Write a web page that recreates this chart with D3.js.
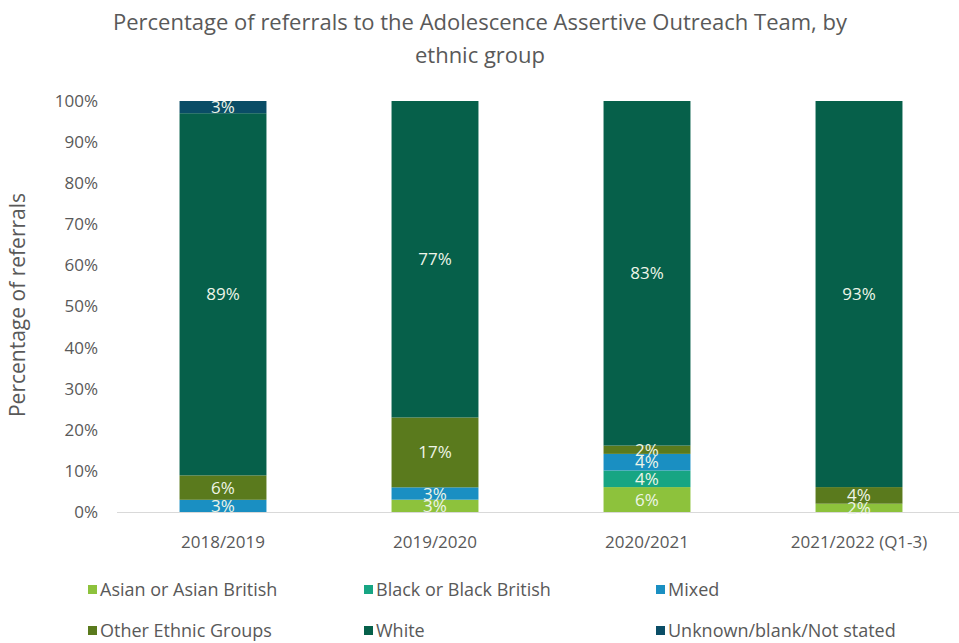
<!DOCTYPE html>
<html>
<head>
<meta charset="utf-8" />
<title>Referrals by ethnic group</title>
<script src="https://cdn.jsdelivr.net/npm/d3@7"></script>
<style>
    body { margin: 0; padding: 0; background: #fff; }
    svg text { font-family: "Open Sans", "Noto Sans", sans-serif; }
</style>
</head>
<body>
<div id="chart"></div>
<script>
    var years = ["2018/2019", "2019/2020", "2020/2021", "2021/2022 (Q1-3)"];
    var groups = ["Asian or Asian British", "Black or Black British", "Mixed",
                  "Other Ethnic Groups", "White", "Unknown/blank/Not stated"];
    var colors = ["#8dc23c", "#17a583", "#1a8fc2", "#5a7a1d", "#06604a", "#0a4d66"];

    // percent per year, in order of groups
    var asian   = [0, 3, 6, 2];
    var black   = [0, 0, 4, 0];
    var mixed   = [3, 3, 4, 0];
    var other   = [6, 17, 2, 4];
    var white   = [89, 77, 83, 93];
    var unknown = [3, 0, 0, 0];

    var yTicks = [0, 10, 20, 30, 40, 50, 60, 70, 80, 90, 100];

    var series = [asian, black, mixed, other, white, unknown];
    var rows = years.map(function (y, i) {
        var r = { year: y };
        groups.forEach(function (g, j) { r[g] = series[j][i]; });
        return r;
    });

    var W = 959, H = 643;
    var svg = d3.select("#chart").append("svg").attr("width", W).attr("height", H);

    var x = d3.scaleBand().domain(years).range([117, 965]).paddingInner(0.59).paddingOuter(0.295);
    var y = d3.scaleLinear().domain([0, 1]).range([512, 101]);

    // Excel-style 100% stack: each column normalised to its own total
    var stacked = d3.stack().keys(groups).offset(d3.stackOffsetExpand)(rows);

    // title
    svg.append("text").attr("x", 480).attr("y", 30).attr("text-anchor", "middle")
        .attr("font-size", 22).attr("fill", "#595959")
        .text("Percentage of referrals to the Adolescence Assertive Outreach Team, by");
    svg.append("text").attr("x", 480).attr("y", 63).attr("text-anchor", "middle")
        .attr("font-size", 22).attr("fill", "#595959").text("ethnic group");

    // y axis
    var yAxis = svg.append("g").attr("transform", "translate(98,0)")
        .call(d3.axisLeft(y).tickValues(yTicks.map(function (t) { return t / 100; }))
            .tickFormat(function (d) { return Math.round(d * 100) + "%"; })
            .tickSize(0).tickPadding(0));
    yAxis.select(".domain").remove();
    yAxis.selectAll("text").attr("font-size", 17).attr("fill", "#595959")
        .attr("font-family", "'Open Sans', sans-serif");

    svg.append("text").attr("transform", "translate(25,305) rotate(-90)")
        .attr("text-anchor", "middle").attr("font-size", 21).attr("fill", "#595959")
        .text("Percentage of referrals");

    // baseline
    svg.append("line").attr("x1", 117).attr("x2", 965).attr("y1", y(0) + 0.5).attr("y2", y(0) + 0.5)
        .attr("stroke", "#d9d9d9").attr("stroke-width", 1);

    // bars
    var layer = svg.selectAll("g.layer").data(stacked).enter().append("g")
        .attr("class", "layer").attr("fill", function (d, i) { return colors[i]; });

    layer.selectAll("rect").data(function (d) { return d; }).enter().append("rect")
        .attr("x", function (d) { return x(d.data.year); })
        .attr("width", x.bandwidth())
        .attr("y", function (d) { return y(d[1]); })
        .attr("height", function (d) { return y(d[0]) - y(d[1]); });

    // data labels
    stacked.forEach(function (s) {
        s.forEach(function (d) {
            var v = d.data[s.key];
            if (!v) return;
            svg.append("text")
                .attr("x", x(d.data.year) + x.bandwidth() / 2)
                .attr("y", (y(d[0]) + y(d[1])) / 2 + 6)
                .attr("text-anchor", "middle").attr("font-size", 17)
                .attr("fill", "#eef5e8").text(v + "%");
        });
    });

    // x axis
    var xAxis = svg.append("g").attr("transform", "translate(0," + 512 + ")")
        .call(d3.axisBottom(x).tickSize(0).tickPadding(24));
    xAxis.select(".domain").remove();
    xAxis.selectAll("text").attr("font-size", 17).attr("fill", "#595959")
        .attr("font-family", "'Open Sans', sans-serif");

    // legend
    var legX = [88, 364, 656], legY = [590, 631];
    var legend = svg.selectAll("g.leg").data(groups).enter().append("g")
        .attr("class", "leg")
        .attr("transform", function (d, i) {
            return "translate(" + legX[i % 3] + "," + legY[Math.floor(i / 3)] + ")";
        });
    legend.append("rect").attr("x", 0).attr("y", -5).attr("width", 9).attr("height", 9)
        .attr("fill", function (d, i) { return colors[i]; });
    legend.append("text").attr("x", 12).attr("y", 6).attr("font-size", 18)
        .attr("fill", "#595959").text(function (d) { return d; });
</script>
</body>
</html>
